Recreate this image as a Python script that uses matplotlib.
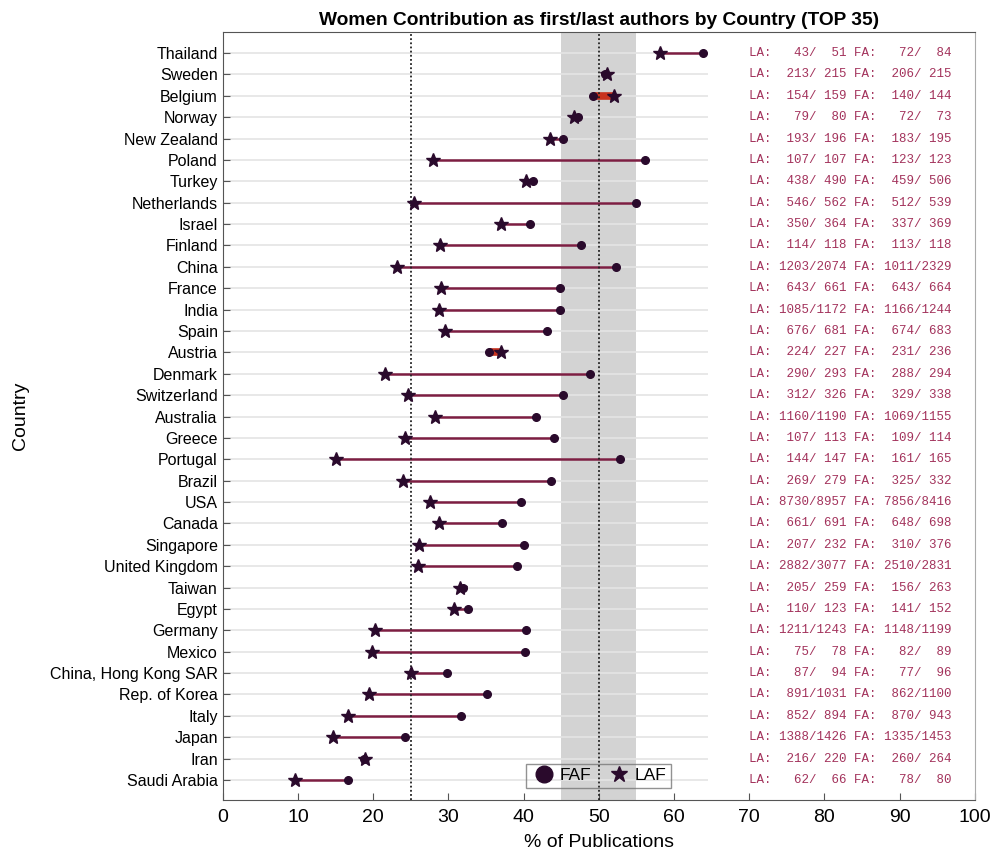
import matplotlib.pyplot as plt
from matplotlib.lines import Line2D
import numpy as np

plt.rcParams['font.family'] = ['Liberation Sans', 'DejaVu Sans']

# data (top to bottom)
countries = ["Thailand", "Sweden", "Belgium", "Norway", "New Zealand", "Poland",
             "Turkey", "Netherlands", "Israel", "Finland", "China", "France",
             "India", "Spain", "Austria", "Denmark", "Switzerland", "Australia",
             "Greece", "Portugal", "Brazil", "USA", "Canada", "Singapore",
             "United Kingdom", "Taiwan", "Egypt", "Germany", "Mexico",
             "China, Hong Kong SAR", "Rep. of Korea", "Italy", "Japan", "Iran",
             "Saudi Arabia"]
faf = [63.9, 50.9, 49.2, 47.2, 45.3, 56.1, 41.2, 55.0, 40.9, 47.7, 52.3, 44.9,
       44.8, 43.1, 35.4, 48.9, 45.3, 41.6, 44.0, 52.8, 43.7, 39.7, 37.2, 40.0,
       39.1, 32.0, 32.6, 40.3, 40.2, 29.8, 35.1, 31.7, 24.3, 18.8, 16.6]
laf = [58.1, 51.1, 52.0, 46.7, 43.5, 27.9, 40.3, 25.5, 37.0, 28.9, 23.2, 29.0,
       28.7, 29.5, 37.0, 21.6, 24.6, 28.2, 24.2, 15.1, 24.0, 27.6, 28.8, 26.1,
       26.0, 31.6, 30.8, 20.3, 19.9, 25.1, 19.4, 16.7, 14.7, 18.9, 9.6]
la_n = [43, 213, 154, 79, 193, 107, 438, 546, 350, 114, 1203, 643, 1085, 676,
        224, 290, 312, 1160, 107, 144, 269, 8730, 661, 207, 2882, 205, 110,
        1211, 75, 87, 891, 852, 1388, 216, 62]
la_tot = [51, 215, 159, 80, 196, 107, 490, 562, 364, 118, 2074, 661, 1172, 681,
          227, 293, 326, 1190, 113, 147, 279, 8957, 691, 232, 3077, 259, 123,
          1243, 78, 94, 1031, 894, 1426, 220, 66]
fa_n = [72, 206, 140, 72, 183, 123, 459, 512, 337, 113, 1011, 643, 1166, 674,
        231, 288, 329, 1069, 109, 161, 325, 7856, 648, 310, 2510, 156, 141,
        1148, 82, 77, 862, 870, 1335, 260, 78]
fa_tot = [84, 215, 144, 73, 195, 123, 506, 539, 369, 118, 2329, 664, 1244, 683,
          236, 294, 338, 1155, 114, 165, 332, 8416, 698, 376, 2831, 263, 152,
          1199, 89, 96, 1100, 943, 1453, 264, 80]

mark_col = "#2a0a2c"
line_col = "#7d1e42"
red_col = "#c8321e"
txt_col = "#a3335c"

fig = plt.figure(figsize=(9.92, 8.49), dpi=100)
ax = fig.add_axes([0.2245, 0.0574, 0.7581, 0.9053])

y = np.arange(len(countries))

# shaded band and reference lines
ax.axvspan(45, 55, color="#d3d3d3", zorder=0, lw=0)
ax.hlines(y, 0, 64.5, color="#e4e4e4", lw=1.2, zorder=1)
ax.axvline(25, color="#222222", ls=(0, (1, 1.3)), lw=1.3, zorder=4)
ax.axvline(50, color="#222222", ls=(0, (1, 1.3)), lw=1.3, zorder=4)

for i in range(len(countries)):
    if laf[i] > faf[i]:
        ax.plot([faf[i], laf[i]], [y[i], y[i]], color=red_col, lw=5.5, zorder=3,
                solid_capstyle="butt")
    else:
        ax.plot([faf[i], laf[i]], [y[i], y[i]], color=line_col, lw=1.8, zorder=3)
    ax.text(70, y[i], "LA: %4d/%4d FA: %4d/%4d" % (la_n[i], la_tot[i], fa_n[i], fa_tot[i]),
            family="Liberation Mono", fontsize=9, color=txt_col, va="center", ha="left")

ax.plot(faf, y, "o", color=mark_col, ms=5.5, zorder=5)
ax.plot(laf, y, "*", color=mark_col, ms=10, zorder=6)

ax.set_xlim(0, 100)
ax.set_ylim(34.95, -1)
ax.set_xticks(np.arange(0, 101, 10))
ax.set_yticks(y)
ax.set_yticklabels(countries, fontsize=11.5)
ax.tick_params(axis="x", labelsize=14, direction="in", length=5, color="#555555", pad=6)
ax.tick_params(axis="y", direction="in", length=5, color="#555555")
for s in ["left", "bottom", "top"]:
    ax.spines[s].set_color("#555555")
ax.spines["right"].set_color("#aaaaaa")

ax.set_xlabel("% of Publications", fontsize=14, labelpad=6)
ax.set_ylabel("Country", fontsize=14)
ax.yaxis.set_label_coords(-0.258, 0.5)
ax.set_title("Women Contribution as first/last authors by Country (TOP 35)",
             fontsize=13.8, fontweight="bold", pad=5)

handles = [Line2D([], [], ls="none", marker="o", color=mark_col, ms=12),
           Line2D([], [], ls="none", marker="*", color=mark_col, ms=12)]
leg = ax.legend(handles, ["FAF", "LAF"], loc="lower center",
                bbox_to_anchor=(0.5, 0.005), ncol=2, fontsize=12.5, frameon=True,
                fancybox=False, handletextpad=0.2, columnspacing=0.8,
                borderpad=0.25, handlelength=1.5)
leg.get_frame().set_facecolor("none")
leg.get_frame().set_edgecolor("#777777")

fig.savefig("out.png", dpi=100)
